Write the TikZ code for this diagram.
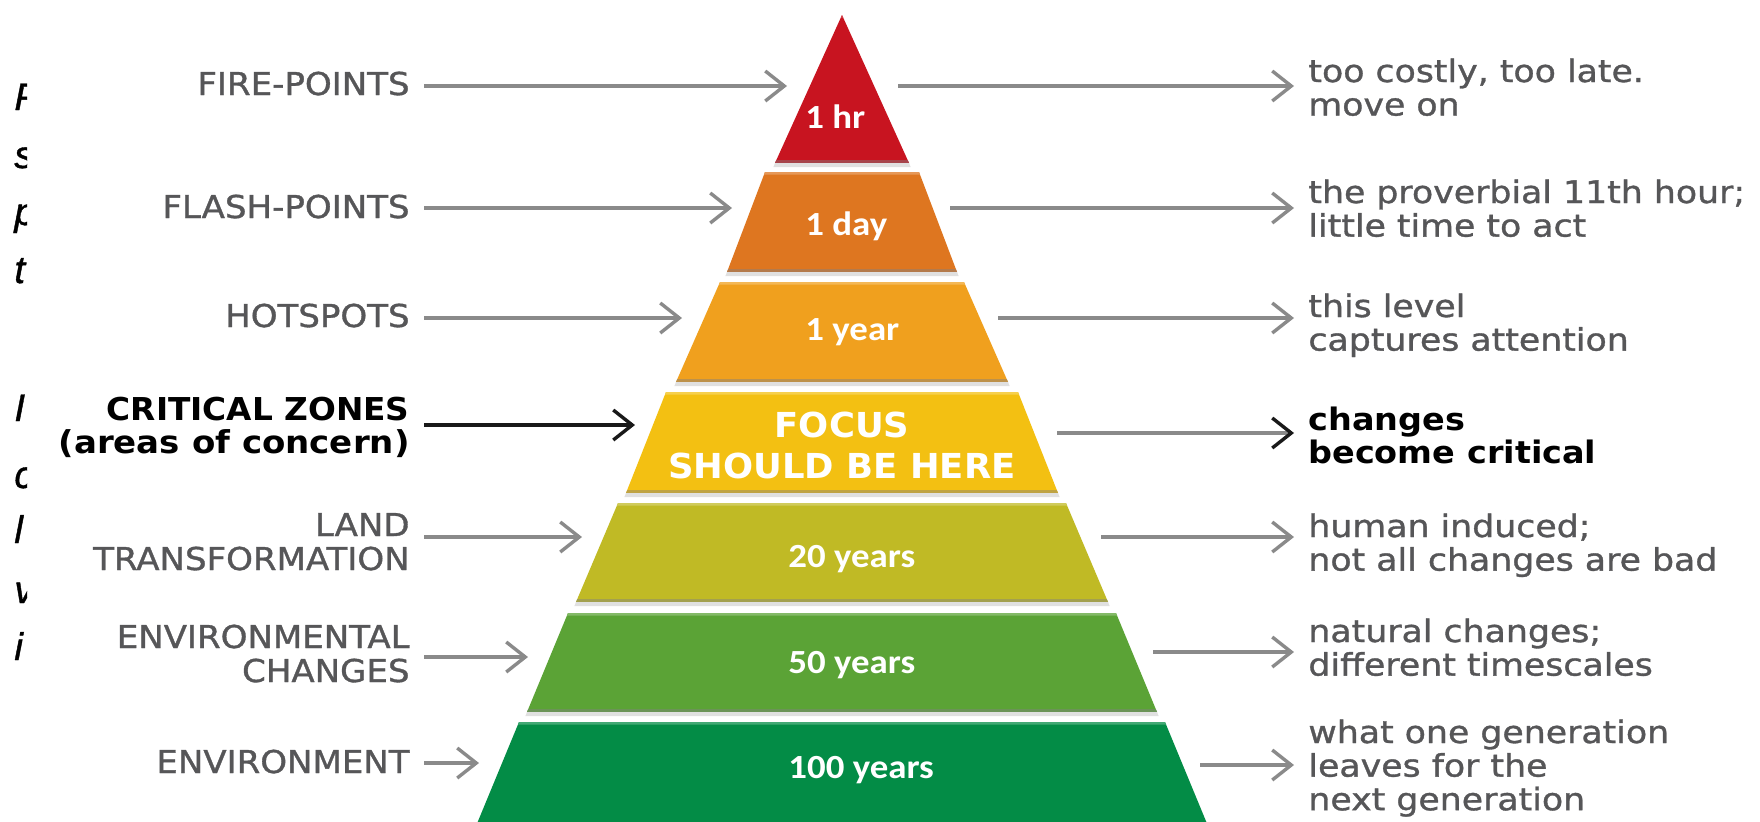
\documentclass[tikz,border=0pt]{standalone}
\usepackage{fontspec}
\usetikzlibrary{arrows.meta}

% type faces
\newfontfamily\labelfont[FakeStretch=1.08,FakeBold=1.1]{DejaVu Sans}
\newfontfamily\keyfont[FakeStretch=1.04]{DejaVu Sans}
\newfontfamily\keynotefont[FakeStretch=1.08]{DejaVu Sans}
\newfontfamily\notefont[FakeStretch=1.12,FakeBold=1.1]{DejaVu Sans}
\newfontfamily\tierfont[FakeStretch=1.09]{Carlito}
\newfontfamily\focusfont[FakeStretch=1.03]{DejaVu Sans}
\newfontfamily\margfont[FakeBold=1]{Liberation Sans}

% stacked lines whose baseline is the first line
\newcommand\stk[2]{\begin{tabular}[t]{@{}#1@{}}#2\end{tabular}}

\definecolor{tierA}{RGB}{200,20,32}
\definecolor{tierB}{RGB}{222,118,32}
\definecolor{tierC}{RGB}{240,160,30}
\definecolor{tierD}{RGB}{243,192,18}
\definecolor{tierE}{RGB}{192,186,37}
\definecolor{tierF}{RGB}{91,163,54}
\definecolor{tierG}{RGB}{3,140,70}
\definecolor{txtgrey}{RGB}{86,86,88}
\definecolor{arrgrey}{RGB}{138,138,138}
\definecolor{arrblack}{RGB}{25,25,25}

% one band of the pyramid: colour, top y, bottom y, half width at top, half width at bottom
\newcommand\drawtier[5]{%
  \fill[#1] (842-#4,#2) -- (842+#4,#2) -- (842+#5,#3) -- (842-#5,#3) -- cycle;
  \fill[#1!75!white] (842-#4,#2) -- (842+#4,#2) -- (842+#4+1,#2+2.5) -- (842-#4-1,#2+2.5) -- cycle;
  \fill[#1!55!gray] (842-#5+1.3,#3-3) -- (842+#5-1.3,#3-3) -- (842+#5,#3) -- (842-#5,#3) -- cycle;
  \fill[black!12] (842-#5,#3) -- (842+#5,#3) -- (842+#5+1.6,#3+4) -- (842-#5-1.6,#3+4) -- cycle;
}

\begin{document}
\begin{tikzpicture}[
  x=0.5pt, y=-0.5pt,
  lab/.style={anchor=base east, inner sep=0pt, text=txtgrey,
    font=\labelfont\fontsize{15.75pt}{17pt}\selectfont},
  labkey/.style={anchor=base east, inner sep=0pt, text=black,
    font=\keyfont\bfseries\fontsize{15.75pt}{16.5pt}\selectfont},
  note/.style={anchor=base west, inner sep=0pt, text=txtgrey,
    font=\notefont\fontsize{15.5pt}{16.75pt}\selectfont},
  notekey/.style={anchor=base west, inner sep=0pt, text=black,
    font=\keynotefont\bfseries\fontsize{15.5pt}{16.5pt}\selectfont},
  years/.style={anchor=base west, inner sep=0pt, text=white,
    font=\tierfont\bfseries\fontsize{16.9pt}{20pt}\selectfont},
  focus/.style={anchor=base, inner sep=0pt, text=white,
    font=\focusfont\bfseries\fontsize{17.2pt}{20.5pt}\selectfont},
  marg/.style={anchor=base west, inner sep=0pt, text=black,
    font=\margfont\itshape\fontsize{19.25pt}{20pt}\selectfont},
  arr/.style={draw=arrgrey, line width=2.4pt,
    -{Straight Barb[length=9.5pt,width=15pt,line width=1.7pt]}},
  arrkey/.style={draw=arrblack, line width=2.2pt,
    -{Straight Barb[length=9.5pt,width=15pt,line width=1.7pt]}},
  arrmix/.style={draw=arrgrey, line width=2.4pt,
    -{Straight Barb[length=9.5pt,width=15pt,line width=1.7pt,color=arrblack]}},
]
\fill[white] (0,0) rectangle (1760,821);
\useasboundingbox (0,0) rectangle (1760,821);

% clipped margin text at the far left
\begin{scope}
  \clip (0,0) rectangle (27,821);
  \node[marg] (m1) at (14,110) {P};
  \node[marg] (m2) at (14,168) {s};
  \node[marg] (m3) at (14,225) {p};
  \node[marg] (m4) at (14,283) {t};
  \node[marg] (m5) at (14,421) {I};
  \node[marg] (m6) at (14,488) {c};
  \node[marg] (m7) at (14,543) {l};
  \node[marg] (m8) at (14,603) {v};
  \node[marg] (m9) at (14,660) {i};
\end{scope}

% pyramid bands
\drawtier{tierA}{15}{163}{0}{67}
\drawtier{tierB}{172}{272}{77}{115}
\drawtier{tierC}{282}{382}{122}{166}
\drawtier{tierD}{392}{493}{176}{216}
\drawtier{tierE}{503}{602}{224}{266}
\drawtier{tierF}{613}{712}{274}{315}
\drawtier{tierG}{722}{826}{323}{366}

% band captions
\node[years] (t1) at (805,128) {1 hr};
\node[years] (t2) at (805,235) {1 day};
\node[years] (t3) at (805,340) {1 year};
\node[focus] (t4) at (842,437) {\stk{c}{FOCUS\\SHOULD BE HERE}};
\node[years] (t5) at (788,567) {20 years};
\node[years] (t6) at (788,673) {50 years};
\node[years] (t7) at (788,778) {100 years};

% level names
\node[lab] (l1) at (410,95) {FIRE-POINTS};
\node[lab] (l2) at (410,218) {FLASH-POINTS};
\node[lab] (l3) at (410,327) {HOTSPOTS};
\node[labkey] (l4) at (410,420) {\stk{r}{CRITICAL ZONES\\{\addfontfeatures{FakeStretch=1.08}(areas of concern)}}};
\node[lab] (l5) at (410,536) {\stk{r}{LAND\\TRANSFORMATION}};
\node[lab] (l6) at (410,648) {\stk{r}{ENVIRONMENTAL\\CHANGES}};
\node[lab] (l7) at (410,773) {ENVIRONMENT};

% remarks
\node[note] (r1) at (1308,82) {\stk{l}{too costly, too late.\\move on}};
\node[note] (r2) at (1308,203) {\stk{l}{the proverbial 11th hour;\\little time to act}};
\node[note] (r3) at (1308,317) {\stk{l}{this level\\captures attention}};
\node[notekey] (r4) at (1308,430) {\stk{l}{changes\\become critical}};
\node[note] (r5) at (1308,537) {\stk{l}{human induced;\\not all changes are bad}};
\node[note] (r6) at (1308,642) {\stk{l}{natural changes;\\different timescales}};
\node[note] (r7) at (1308,743) {\stk{l}{what one generation\\leaves for the\\next generation}};

% arrow ends
\coordinate (a1) at (424,86);  \coordinate (b1) at (787,86);
\coordinate (a2) at (424,208); \coordinate (b2) at (732,208);
\coordinate (a3) at (424,318); \coordinate (b3) at (682,318);
\coordinate (a4) at (424,425); \coordinate (b4) at (635,425);
\coordinate (a5) at (424,537); \coordinate (b5) at (582,537);
\coordinate (a6) at (424,657); \coordinate (b6) at (528,657);
\coordinate (a7) at (424,763); \coordinate (b7) at (479,763);

\coordinate (c1) at (898,86);   \coordinate (d1) at (1294,86);
\coordinate (c2) at (950,208);  \coordinate (d2) at (1294,208);
\coordinate (c3) at (998,318);  \coordinate (d3) at (1294,318);
\coordinate (c4) at (1057,433); \coordinate (d4) at (1294,433);
\coordinate (c5) at (1101,537); \coordinate (d5) at (1294,537);
\coordinate (c6) at (1153,652); \coordinate (d6) at (1294,652);
\coordinate (c7) at (1200,765); \coordinate (d7) at (1294,765);

\draw[arr] (a1) -- (b1);
\draw[arr] (a2) -- (b2);
\draw[arr] (a3) -- (b3);
\draw[arrkey] (a4) -- (b4);
\draw[arr] (a5) -- (b5);
\draw[arr] (a6) -- (b6);
\draw[arr] (a7) -- (b7);

\draw[arr] (c1) -- (d1);
\draw[arr] (c2) -- (d2);
\draw[arr] (c3) -- (d3);
\draw[arrmix] (c4) -- (d4);
\draw[arr] (c5) -- (d5);
\draw[arr] (c6) -- (d6);
\draw[arr] (c7) -- (d7);
\end{tikzpicture}
\end{document}
